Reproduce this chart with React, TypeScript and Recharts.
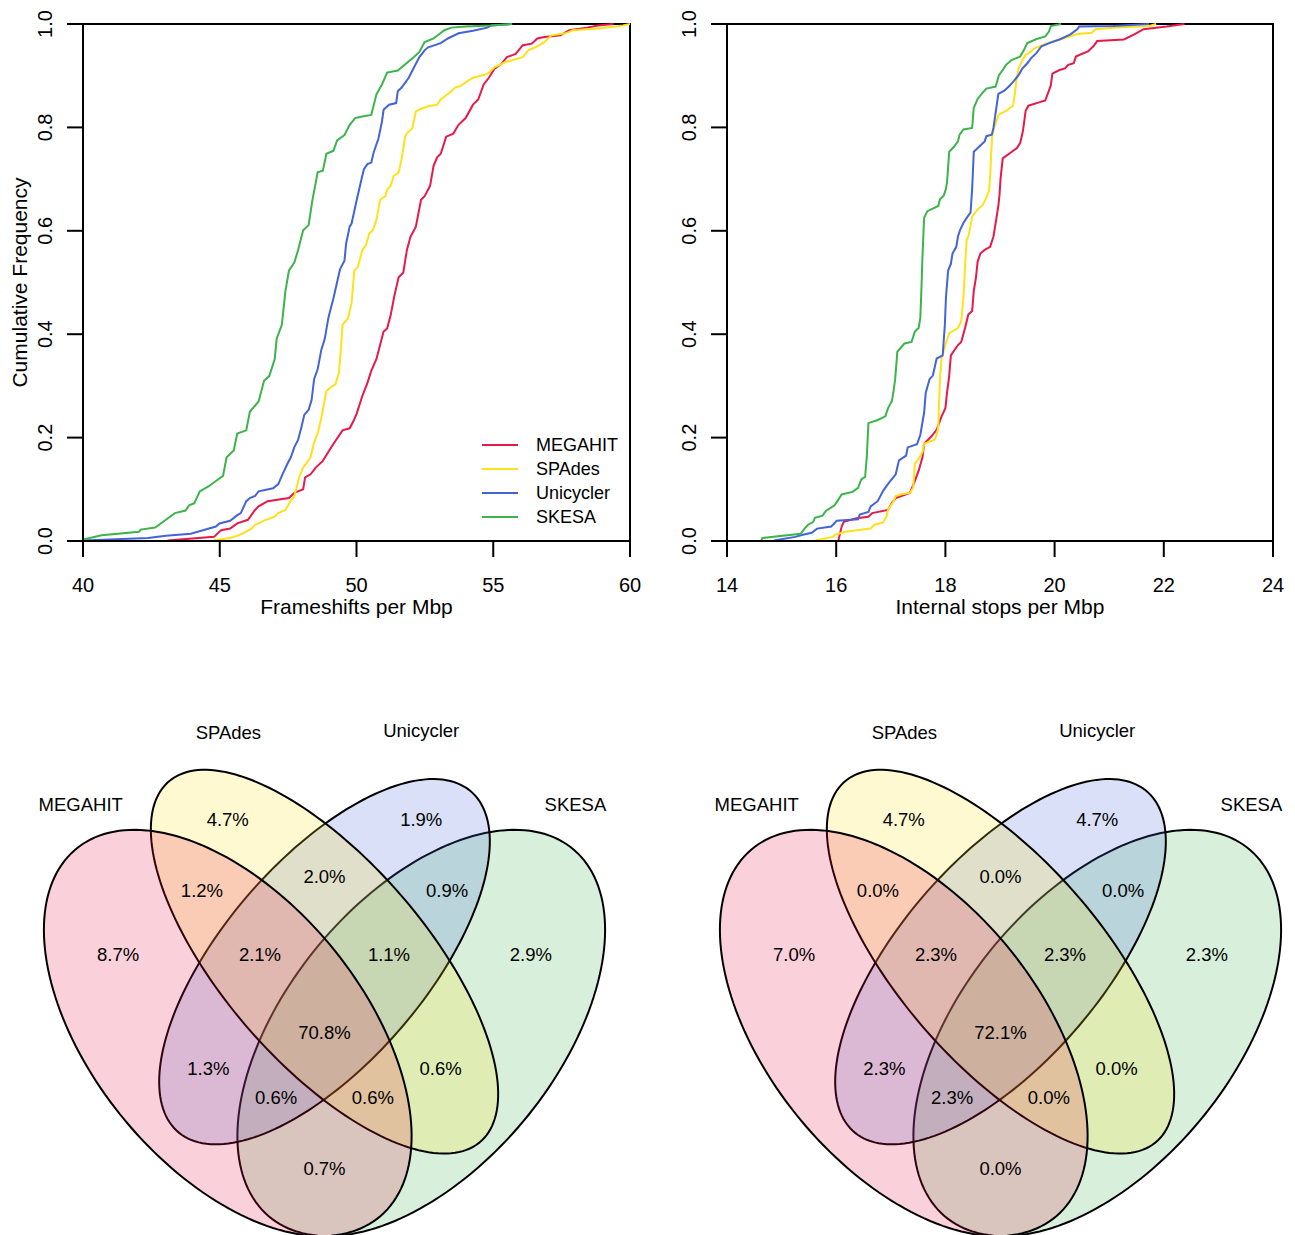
import React from 'react';
import { LineChart, Line, XAxis, YAxis, ReferenceArea, Legend, ScatterChart, Scatter } from 'recharts';

const categories = ['MEGAHIT', 'SPAdes', 'Unicycler', 'SKESA'];
const seriesColors = ['#e6194b', '#ffe119', '#4363d8', '#3cb44b'];

const frameshiftTicks = [40, 45, 50, 55, 60];
const stopTicks = [14, 16, 18, 20, 22, 24];
const freqTicks = [0, 0.2, 0.4, 0.6, 0.8, 1];

// ECDF corners: [value per Mbp, cumulative frequency]
const fsMegahit: [number, number][] = [
  [43.09, 0.001], [44.79, 0.008], [45.05, 0.021], [45.38, 0.024], [45.64, 0.034], [46.03, 0.041], [46.29, 0.06], [46.42, 0.067],
  [46.75, 0.077], [47.53, 0.083], [47.73, 0.093], [47.86, 0.096], [48.05, 0.1], [48.12, 0.123], [48.32, 0.129], [48.51, 0.142],
  [48.77, 0.155], [48.97, 0.172], [49.16, 0.188], [49.49, 0.214], [49.75, 0.218], [49.88, 0.231], [50.01, 0.247], [50.21, 0.28],
  [50.4, 0.306], [50.54, 0.329], [50.73, 0.352], [50.99, 0.405], [51.12, 0.411], [51.25, 0.437], [51.38, 0.473], [51.54, 0.51],
  [51.71, 0.519], [51.84, 0.562], [51.97, 0.588], [52.17, 0.608], [52.36, 0.66], [52.49, 0.667], [52.69, 0.687], [52.82, 0.726],
  [52.95, 0.742], [53.08, 0.749], [53.28, 0.782], [53.54, 0.788], [53.73, 0.805], [53.99, 0.818], [54.26, 0.844], [54.45, 0.854],
  [54.65, 0.883], [54.84, 0.896], [55.04, 0.913], [55.3, 0.923], [55.5, 0.936], [55.82, 0.942], [56.08, 0.959], [56.41, 0.962],
  [56.61, 0.972], [56.87, 0.975], [57.46, 0.978], [57.78, 0.988], [58.43, 0.993], [58.83, 0.997], [59.4, 1.0],
];
const fsSpades: [number, number][] = [
  [44.75, 0.001], [45.38, 0.006], [45.64, 0.01], [45.9, 0.016], [46.16, 0.024], [46.29, 0.031], [46.68, 0.041], [47.01, 0.047],
  [47.14, 0.054], [47.4, 0.06], [47.6, 0.078], [47.73, 0.087], [47.92, 0.126], [48.05, 0.142], [48.32, 0.162], [48.45, 0.191],
  [48.58, 0.208], [48.71, 0.237], [48.9, 0.29], [49.03, 0.296], [49.23, 0.303], [49.36, 0.326], [49.43, 0.372], [49.49, 0.418],
  [49.69, 0.431], [49.82, 0.46], [49.92, 0.523], [50.05, 0.53], [50.21, 0.562], [50.34, 0.572], [50.47, 0.595], [50.6, 0.601],
  [50.73, 0.621], [50.86, 0.66], [51.06, 0.667], [51.12, 0.68], [51.25, 0.687], [51.36, 0.706], [51.54, 0.713], [51.65, 0.739],
  [51.78, 0.782], [51.88, 0.791], [52.04, 0.798], [52.17, 0.831], [52.36, 0.836], [52.62, 0.841], [52.95, 0.844], [53.08, 0.854],
  [53.47, 0.87], [53.6, 0.877], [53.8, 0.88], [53.99, 0.887], [54.26, 0.896], [54.78, 0.903], [55.04, 0.916], [55.43, 0.926],
  [56.08, 0.936], [56.28, 0.949], [56.54, 0.955], [56.87, 0.965], [57.13, 0.978], [57.65, 0.982], [57.91, 0.988], [58.69, 0.991],
  [59.48, 0.995], [59.74, 0.997], [60.0, 1.0],
];
const fsUnicycler: [number, number][] = [
  [40.0, 0.001], [42.38, 0.006], [43.03, 0.01], [43.94, 0.014], [44.86, 0.028], [44.99, 0.034], [45.38, 0.039], [45.64, 0.05],
  [45.77, 0.054], [45.97, 0.077], [46.1, 0.083], [46.29, 0.087], [46.42, 0.096], [46.95, 0.102], [47.14, 0.11], [47.27, 0.126],
  [47.47, 0.149], [47.6, 0.162], [47.73, 0.182], [47.86, 0.195], [47.99, 0.221], [48.09, 0.244], [48.25, 0.254], [48.36, 0.273],
  [48.45, 0.313], [48.58, 0.332], [48.71, 0.369], [48.84, 0.391], [48.97, 0.431], [49.03, 0.444], [49.16, 0.47], [49.3, 0.503],
  [49.4, 0.526], [49.56, 0.542], [49.62, 0.575], [49.75, 0.608], [49.82, 0.614], [50.01, 0.66], [50.21, 0.706], [50.27, 0.719],
  [50.4, 0.729], [50.54, 0.732], [50.63, 0.752], [50.8, 0.778], [50.93, 0.811], [50.99, 0.834], [51.19, 0.844], [51.45, 0.847],
  [51.51, 0.87], [51.65, 0.877], [51.91, 0.896], [52.1, 0.916], [52.3, 0.936], [52.49, 0.949], [52.62, 0.955], [53.08, 0.963],
  [53.34, 0.972], [53.73, 0.982], [54.26, 0.987], [54.78, 0.993], [54.91, 0.997], [55.69, 1.0],
];
const fsSkesa: [number, number][] = [
  [40.0, 0.003], [40.68, 0.011], [42.05, 0.018], [42.11, 0.022], [42.64, 0.026], [43.03, 0.041], [43.36, 0.054], [43.75, 0.059],
  [43.88, 0.069], [44.07, 0.073], [44.27, 0.096], [44.6, 0.106], [44.86, 0.116], [45.12, 0.126], [45.25, 0.162], [45.51, 0.175],
  [45.64, 0.208], [45.97, 0.214], [46.1, 0.25], [46.42, 0.27], [46.62, 0.31], [46.81, 0.319], [47.01, 0.352], [47.08, 0.391],
  [47.27, 0.418], [47.4, 0.483], [47.53, 0.523], [47.73, 0.539], [47.86, 0.562], [48.05, 0.601], [48.25, 0.611], [48.38, 0.657],
  [48.58, 0.713], [48.77, 0.716], [48.9, 0.749], [49.16, 0.755], [49.29, 0.775], [49.56, 0.785], [49.75, 0.805], [49.95, 0.818],
  [50.21, 0.821], [50.54, 0.824], [50.73, 0.864], [50.93, 0.883], [51.12, 0.906], [51.51, 0.91], [52.1, 0.936], [52.3, 0.946],
  [52.49, 0.965], [52.82, 0.972], [53.21, 0.988], [53.47, 0.993], [53.99, 0.995], [54.91, 0.997], [55.69, 1.0],
];

const stMegahit: [number, number][] = [
  [16.04, 0.001], [16.1, 0.028], [16.14, 0.037], [16.37, 0.044], [16.59, 0.047], [16.66, 0.054], [16.95, 0.06], [17.02, 0.074],
  [17.09, 0.083], [17.35, 0.093], [17.44, 0.116], [17.51, 0.136], [17.58, 0.162], [17.61, 0.188], [17.74, 0.202], [17.84, 0.215],
  [17.93, 0.241], [18.0, 0.257], [18.03, 0.287], [18.07, 0.32], [18.1, 0.359], [18.23, 0.379], [18.29, 0.385], [18.36, 0.412],
  [18.39, 0.425], [18.42, 0.438], [18.49, 0.445], [18.52, 0.484], [18.56, 0.51], [18.59, 0.54], [18.64, 0.556], [18.72, 0.563],
  [18.82, 0.569], [18.88, 0.589], [18.92, 0.615], [18.97, 0.648], [18.99, 0.668], [19.01, 0.701], [19.05, 0.74], [19.18, 0.75],
  [19.31, 0.76], [19.37, 0.77], [19.42, 0.793], [19.47, 0.832], [19.52, 0.842], [19.7, 0.848], [19.83, 0.852], [19.86, 0.861],
  [19.93, 0.881], [19.96, 0.904], [20.09, 0.911], [20.19, 0.914], [20.25, 0.921], [20.35, 0.924], [20.39, 0.937], [20.45, 0.94],
  [20.61, 0.947], [20.71, 0.957], [20.78, 0.967], [21.27, 0.97], [21.46, 0.98], [21.63, 0.99], [22.05, 0.995], [22.38, 1.0],
];
const stSpades: [number, number][] = [
  [15.61, 0.001], [15.94, 0.008], [15.97, 0.012], [16.17, 0.018], [16.63, 0.024], [16.69, 0.031], [16.86, 0.036], [16.92, 0.047],
  [16.95, 0.06], [17.05, 0.077], [17.09, 0.087], [17.18, 0.09], [17.35, 0.093], [17.41, 0.103], [17.44, 0.149], [17.51, 0.159],
  [17.58, 0.172], [17.61, 0.188], [17.8, 0.196], [17.84, 0.205], [17.87, 0.221], [17.88, 0.254], [17.9, 0.313], [17.93, 0.353],
  [18.0, 0.379], [18.07, 0.402], [18.23, 0.412], [18.29, 0.425], [18.33, 0.471], [18.35, 0.51], [18.37, 0.55], [18.39, 0.582],
  [18.42, 0.589], [18.46, 0.609], [18.49, 0.628], [18.59, 0.641], [18.69, 0.651], [18.75, 0.664], [18.8, 0.678], [18.82, 0.707],
  [18.84, 0.753], [18.86, 0.786], [18.9, 0.802], [18.98, 0.825], [19.11, 0.832], [19.24, 0.842], [19.27, 0.865], [19.31, 0.898],
  [19.34, 0.914], [19.41, 0.93], [19.47, 0.94], [19.57, 0.947], [19.63, 0.953], [19.8, 0.96], [19.99, 0.967], [20.09, 0.97],
  [20.19, 0.973], [20.39, 0.98], [20.68, 0.983], [20.75, 0.99], [21.14, 0.993], [21.73, 0.996], [21.86, 1.0],
];
const stUnicycler: [number, number][] = [
  [14.86, 0.001], [15.25, 0.008], [15.39, 0.012], [15.55, 0.016], [15.65, 0.024], [15.91, 0.028], [16.01, 0.039], [16.4, 0.042],
  [16.43, 0.051], [16.59, 0.056], [16.63, 0.067], [16.76, 0.077], [16.86, 0.097], [16.92, 0.106], [16.99, 0.116], [17.09, 0.129],
  [17.15, 0.156], [17.28, 0.165], [17.31, 0.181], [17.48, 0.187], [17.54, 0.205], [17.61, 0.248], [17.64, 0.287], [17.71, 0.313],
  [17.77, 0.32], [17.84, 0.353], [17.95, 0.359], [17.99, 0.418], [18.01, 0.471], [18.05, 0.523], [18.1, 0.536], [18.13, 0.556],
  [18.2, 0.569], [18.23, 0.589], [18.27, 0.602], [18.33, 0.615], [18.39, 0.625], [18.46, 0.635], [18.49, 0.681], [18.52, 0.753],
  [18.65, 0.766], [18.72, 0.773], [18.75, 0.783], [18.85, 0.786], [18.88, 0.799], [18.97, 0.865], [19.08, 0.871], [19.18, 0.881],
  [19.24, 0.888], [19.34, 0.901], [19.41, 0.914], [19.5, 0.924], [19.57, 0.934], [19.67, 0.944], [19.76, 0.957], [19.9, 0.963],
  [20.09, 0.97], [20.29, 0.98], [20.42, 0.99], [20.45, 0.995], [21.07, 0.996], [21.73, 1.0],
];
const stSkesa: [number, number][] = [
  [14.63, 0.001], [14.65, 0.006], [15.35, 0.014], [15.42, 0.024], [15.48, 0.031], [15.58, 0.037], [15.61, 0.045], [15.75, 0.049],
  [15.81, 0.058], [15.97, 0.069], [16.04, 0.08], [16.1, 0.09], [16.3, 0.095], [16.4, 0.103], [16.46, 0.119], [16.53, 0.124],
  [16.56, 0.162], [16.59, 0.228], [16.76, 0.234], [16.9, 0.241], [16.95, 0.257], [17.02, 0.271], [17.05, 0.29], [17.08, 0.313],
  [17.12, 0.366], [17.25, 0.382], [17.38, 0.385], [17.44, 0.405], [17.51, 0.412], [17.54, 0.431], [17.56, 0.484], [17.58, 0.55],
  [17.61, 0.625], [17.67, 0.638], [17.87, 0.648], [17.9, 0.661], [17.97, 0.668], [18.01, 0.681], [18.03, 0.694], [18.07, 0.753],
  [18.16, 0.763], [18.23, 0.773], [18.26, 0.786], [18.33, 0.796], [18.49, 0.799], [18.52, 0.838], [18.59, 0.855], [18.69, 0.868],
  [18.75, 0.875], [18.92, 0.879], [18.98, 0.901], [19.05, 0.911], [19.11, 0.921], [19.21, 0.93], [19.37, 0.937], [19.44, 0.95],
  [19.5, 0.963], [19.67, 0.971], [19.83, 0.976], [19.9, 0.986], [19.93, 0.996], [20.12, 1.0],
];

// Venn region order: S, U, M∩S, S∩U, U∩K, M, M∩S∩U, S∩U∩K, K, all, M∩U, S∩K, M∩U∩K, M∩S∩K, M∩K
const frameshiftVenn = ['4.7%', '1.9%', '1.2%', '2.0%', '0.9%', '8.7%', '2.1%', '1.1%', '2.9%', '70.8%', '1.3%', '0.6%', '0.6%', '0.6%', '0.7%'];
const stopVenn = ['4.7%', '4.7%', '0.0%', '0.0%', '0.0%', '7.0%', '2.3%', '2.3%', '2.3%', '72.1%', '2.3%', '0.0%', '2.3%', '0.0%', '0.0%'];

// quad venn layout (unit square)
const regionAnchors = [
  [0.35, 0.77], [0.65, 0.77], [0.31, 0.67], [0.5, 0.69], [0.69, 0.67], [0.18, 0.58], [0.4, 0.58], [0.6, 0.58],
  [0.82, 0.58], [0.5, 0.47], [0.32, 0.42], [0.68, 0.42], [0.425, 0.38], [0.575, 0.38], [0.5, 0.28],
];
const categoryAnchors = [[0.122, 0.791], [0.351, 0.891], [0.65, 0.894], [0.889, 0.791]];
const ellipseShapes = [
  { cx: 0.35, cy: 0.47, a: 0.35, b: 0.2, rot: 135 },
  { cx: 0.5, cy: 0.57, a: 0.35, b: 0.15, rot: 135 },
  { cx: 0.5, cy: 0.57, a: 0.33, b: 0.15, rot: 45 },
  { cx: 0.65, cy: 0.47, a: 0.35, b: 0.2, rot: 45 },
];
const drawOrder = [3, 2, 1, 0];

const FONT = '"Liberation Sans", Arial, Helvetica, sans-serif';

const toRows = (pts: [number, number][]) => pts.map(([x, y]) => ({ x, y }));

function ellipseOutline(e: { cx: number; cy: number; a: number; b: number; rot: number }) {
  const phi = (e.rot * Math.PI) / 180;
  const pts = [];
  for (let k = 0; k <= 180; k++) {
    const t = (k / 180) * 2 * Math.PI;
    pts.push({
      u: e.cx + e.a * Math.cos(t) * Math.cos(phi) - e.b * Math.sin(t) * Math.sin(phi),
      v: e.cy + e.a * Math.cos(t) * Math.sin(phi) + e.b * Math.sin(t) * Math.cos(phi),
    });
  }
  return pts;
}

const RotatedTick = (props: any) => {
  const { x, y, payload } = props;
  const cx = x - 20;
  return (
    <text x={cx} y={y} transform={`rotate(-90 ${cx} ${y})`} textAnchor="middle" dominantBaseline="central" fontSize={20} fill="#000">
      {Number(payload.value).toFixed(1)}
    </text>
  );
};

const EcdfLegend = () => (
  <div style={{ fontFamily: FONT }}>
    {categories.map((c, i) => (
      <div key={c} style={{ display: 'flex', alignItems: 'center', height: 24 }}>
        <span style={{ display: 'inline-block', width: 36, height: 2, marginLeft: 4, marginRight: 18, background: seriesColors[i] }} />
        <span style={{ fontSize: 18, color: '#000' }}>{c}</span>
      </div>
    ))}
  </div>
);

function EcdfPanel(props: {
  left: number;
  series: [number, number][][];
  ticks: number[];
  domain: [number, number];
  xLabel: string;
  rightMargin: number;
  yLabel?: string;
  legend?: boolean;
}) {
  const { left, series, ticks, domain, xLabel, rightMargin, yLabel, legend } = props;
  const axisStroke = { stroke: '#000', strokeWidth: 2 };
  return (
    <div style={{ position: 'absolute', left, top: 0 }}>
      <LineChart width={650} height={640} margin={{ top: 24, right: rightMargin, bottom: 19, left: 0 }}>
        <XAxis
          type="number"
          dataKey="x"
          domain={domain}
          ticks={ticks}
          interval={0}
          allowDataOverflow
          height={80}
          tickSize={16}
          tickMargin={21}
          axisLine={axisStroke}
          tickLine={axisStroke}
          tick={{ fill: '#000', fontSize: 20 }}
          label={{ value: xLabel, position: 'insideBottom', offset: 7, fill: '#000', fontSize: 21 }}
        />
        <YAxis
          type="number"
          domain={[0, 1]}
          ticks={freqTicks}
          interval={0}
          width={83}
          tickSize={16}
          axisLine={axisStroke}
          tickLine={axisStroke}
          tick={<RotatedTick />}
          label={yLabel ? { value: yLabel, angle: -90, position: 'insideLeft', offset: 20, fill: '#000', fontSize: 21, style: { textAnchor: 'middle' } } : undefined}
        />
        <ReferenceArea x1={domain[0]} x2={domain[1]} y1={0} y2={1} fill="none" fillOpacity={0} stroke="#000" strokeWidth={2} ifOverflow="visible" />
        {series.map((s, i) => (
          <Line
            key={categories[i]}
            name={categories[i]}
            data={toRows(s)}
            dataKey="y"
            type="linear"
            stroke={seriesColors[i]}
            strokeWidth={2}
            dot={false}
            activeDot={false}
            isAnimationActive={false}
          />
        ))}
        {legend && (
          <Legend
            layout="vertical"
            align="center"
            verticalAlign="middle"
            wrapperStyle={{ left: 478, top: 433, width: 160 }}
            content={() => <EcdfLegend />}
          />
        )}
      </LineChart>
    </div>
  );
}

const emptyShape = () => <g />;

const textShape = (props: any) => (
  <text x={props.cx} y={props.cy} textAnchor="middle" dominantBaseline="central" fontSize={18.5} fill="#000">
    {props.payload.label}
  </text>
);

function VennPanel({ left, values }: { left: number; values: string[] }) {
  const regionRows = values.map((label, i) => ({ u: regionAnchors[i][0], v: regionAnchors[i][1], label }));
  const catRows = categories.map((label, i) => ({ u: categoryAnchors[i][0], v: categoryAnchors[i][1], label }));
  return (
    <div style={{ position: 'absolute', left, top: 641 }}>
      <ScatterChart width={645} height={620} margin={{ top: 0, right: 0, bottom: 0, left: 0 }}>
        <XAxis type="number" dataKey="u" domain={[0, 1]} hide allowDataOverflow />
        <YAxis type="number" dataKey="v" domain={[0.15, 1.02]} hide allowDataOverflow />
        {drawOrder.map((i) => (
          <Scatter
            key={categories[i]}
            data={ellipseOutline(ellipseShapes[i])}
            shape={emptyShape}
            line={(p: any) => (
              <path
                d={p.points.map((pt: any, k: number) => `${k === 0 ? 'M' : 'L'}${pt.x},${pt.y}`).join(' ') + ' Z'}
                fill={seriesColors[i]}
                fillOpacity={0.2}
                stroke="#000"
                strokeWidth={2}
              />
            )}
            isAnimationActive={false}
          />
        ))}
        <Scatter data={regionRows} shape={textShape} isAnimationActive={false} />
        <Scatter data={catRows} shape={textShape} isAnimationActive={false} />
      </ScatterChart>
    </div>
  );
}

export default function App() {
  return (
    <div
      style={{
        position: 'absolute',
        left: 0,
        top: 0,
        width: 1295,
        height: 1235,
        overflow: 'hidden',
        background: '#fff',
        fontFamily: FONT,
      }}
    >
      <EcdfPanel
        left={0}
        series={[fsMegahit, fsSpades, fsUnicycler, fsSkesa]}
        ticks={frameshiftTicks}
        domain={[40, 60]}
        xLabel="Frameshifts per Mbp"
        rightMargin={20}
        yLabel="Cumulative Frequency"
        legend
      />
      <EcdfPanel
        left={644}
        series={[stMegahit, stSpades, stUnicycler, stSkesa]}
        ticks={stopTicks}
        domain={[14, 24]}
        xLabel="Internal stops per Mbp"
        rightMargin={21}
      />
      <VennPanel left={1.5} values={frameshiftVenn} />
      <VennPanel left={677.5} values={stopVenn} />
    </div>
  );
}
